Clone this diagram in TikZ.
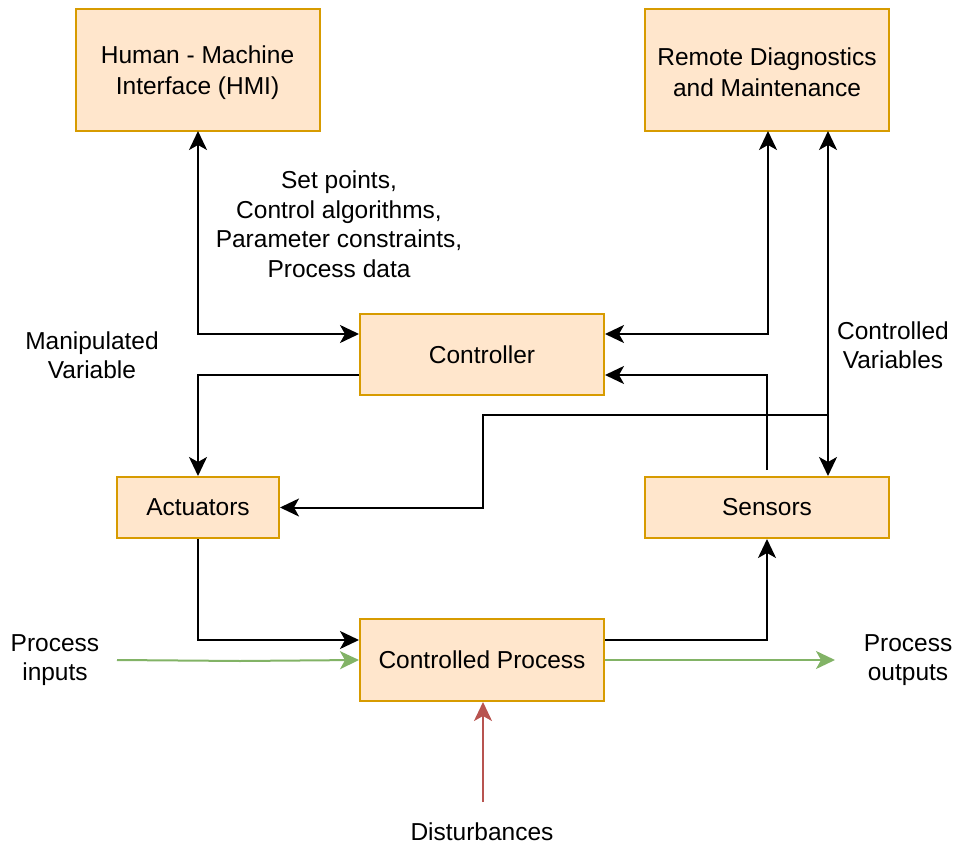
\documentclass[tikz,border=0pt]{standalone}
\usepackage{fontspec}
\setmainfont{Liberation Sans}
\usetikzlibrary{arrows.meta}
\definecolor{boxfill}{HTML}{FFE6CC}
\definecolor{boxdraw}{HTML}{D79B00}
\definecolor{ingreen}{HTML}{82B366}
\definecolor{dred}{HTML}{B85450}
\begin{document}
\begin{tikzpicture}[x=1pt,y=-1pt,
  blk/.style={draw=boxdraw,fill=boxfill,line width=2pt,minimum width=244pt,minimum height=122pt,align=center,inner sep=0pt,font=\fontsize{24.5}{31}\selectfont},
  lbl/.style={align=center,inner sep=0pt,font=\fontsize{24.5}{29.5}\selectfont},
  tip/.tip={Stealth[length=19pt,width=18pt,inset=5pt]},
  conn/.style={line width=2pt,-tip},
  bconn/.style={line width=2pt,tip-tip}]
\useasboundingbox (0,0) rectangle (956,845);
\node[blk] (hmi) at (197.5,70) {};
\node[blk] (rem) at (767,70) {};
\node[lbl,font=\fontsize{24.5}{31}\selectfont] (hmit) at (197.5,72.5) {Human - Machine\\Interface (HMI)};
\node[lbl,font=\fontsize{24.5}{31}\selectfont] (remt) at (767,72.5) {Remote Diagnostics\\and Maintenance};
\node[blk,minimum height=81pt] (ctl) at (482,354.5) {Controller};
\node[blk,minimum width=162pt,minimum height=61pt] (act) at (198,507.5) {Actuators};
\node[blk,minimum height=61pt] (sen) at (767,507.5) {Sensors};
\node[blk,minimum height=82pt] (proc) at (482,660) {Controlled Process};
\coordinate (hmiS) at (198,131);
\coordinate (remS1) at (768,131);
\coordinate (remS2) at (828,131);

\node[lbl] (sp) at (339,224) {Set points,\\Control algorithms,\\Parameter constraints,\\Process data};
\node[lbl] (mv) at (92,355) {Manipulated\\Variable};
\node[lbl] (cv) at (893,345) {Controlled\\Variables};
\node[lbl] (pin) at (55,660) {Process\\inputs};
\node[lbl] (pout) at (908,660) {Process\\outputs};
\node[lbl] (dist) at (482,832) {Disturbances};

\coordinate (inS) at (117,660);
\coordinate (outE) at (835,660);
\coordinate (dS) at (483,802);
\coordinate (br) at (828,415);
\coordinate (senTop) at (767,470);

\draw[bconn] (hmiS) |- ([yshift=20.5pt]ctl.west);
\draw[bconn] (remS1) |- ([yshift=20.5pt]ctl.east);
\draw[bconn] (remS2) -- ([xshift=61pt]sen.north);
\draw[conn] (br) -- (483,415) |- (act.east);
\draw[conn] (senTop) |- ([yshift=-20.5pt]ctl.east);
\draw[conn] ([yshift=-20.5pt]ctl.west) -| (act.north);
\draw[conn] (act.south) |- ([yshift=20pt]proc.west);
\draw[conn] ([yshift=20pt]proc.east) -| (sen.south);
\draw[conn,ingreen] (inS) -- (240,661) -- (proc.west);
\draw[conn,ingreen] (proc.east) -- (outE);
\draw[conn,dred] (dS) -- ([xshift=1pt]proc.south);
\end{tikzpicture}
\end{document}
